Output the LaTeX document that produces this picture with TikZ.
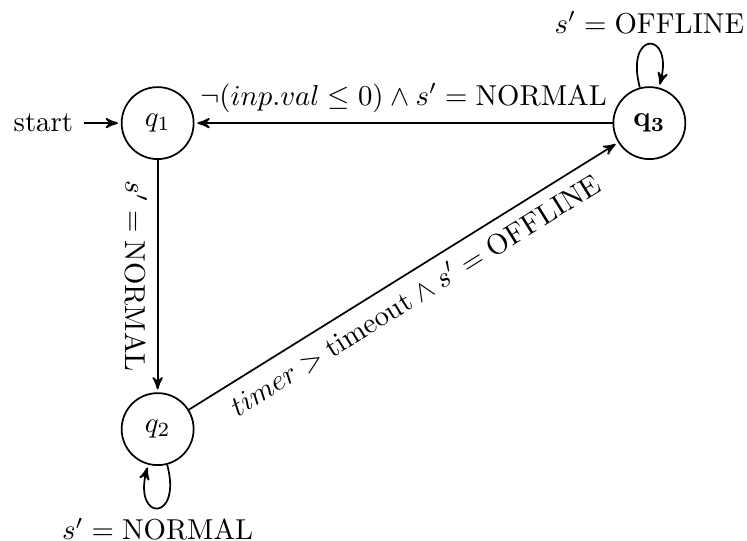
\documentclass[tikz,border=0pt]{standalone}
\usepackage{amsmath,amssymb,mathtools}
\usetikzlibrary{arrows,automata,positioning}

\begin{document}
\begin{tikzpicture}[x=0.75pt,y=0.75pt,->,>=stealth',shorten >=1pt,semithick]
\tikzset{every state/.style={draw,circle,minimum size=25pt,inner sep=0pt}}
\useasboundingbox (0,0) rectangle (345.9,-250.4);

% States
\node[state] (q1) at (73,-57) {$q_1$};
\node[state] (q2) at (73,-198.7) {$q_2$};
\node[state] (q3) at (300.7,-57) {$\mathbf{q_3}$};
% Start
\node[anchor=east] (start) at ([xshift=-3ex]q1.west) {start};
\draw (start) -- (q1);

% Transitions
\draw (q1) -- node[sloped,below] {$s' = \text{NORMAL}$} (q2);
\draw (q2) -- node[sloped,below] {$timer > \text{timeout} \land s' = \text{OFFLINE}$} (q3);
\draw (q3) -- node[above] {$\neg(inp.val \leq 0) \land s' = \text{NORMAL}$} (q1);
% Loops
\path (q3) edge[->,loop above] node[above] {$s' = \text{OFFLINE}$} (q3);
\path (q2) edge[->,loop below] node[below] {$s' = \text{NORMAL}$} (q2);

\end{tikzpicture}
\end{document}
